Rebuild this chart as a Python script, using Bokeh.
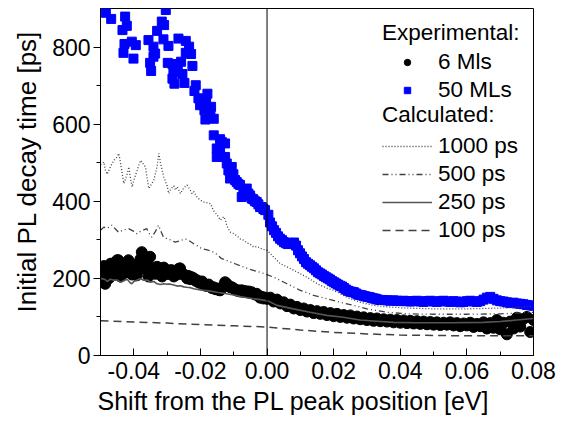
from bokeh.plotting import figure
from bokeh.models import (Range1d, FixedTicker, NumeralTickFormatter, Span, Legend, LegendItem, Title)
from bokeh.embed import file_html
from bokeh.resources import INLINE

# ---- data ----
ml50_x = [-0.0484, -0.0468, -0.0426, -0.0421, -0.0434, -0.0428, -0.0431, -0.0406, -0.0394, -0.0401,
          -0.0316, -0.0309, -0.0330, -0.0304, -0.0356, -0.0341, -0.0336, -0.0341, -0.0351, -0.0348,
          -0.0311, -0.0296, -0.0266, -0.0244, -0.0234, -0.0244, -0.0228, -0.0224, -0.0298, -0.0284,
          -0.0258, -0.0268, -0.0281, -0.0254, -0.0284, -0.0278, -0.0248, -0.0214, -0.0218, -0.0179,
          -0.0206, -0.0183, -0.0201, -0.0168, -0.0188, -0.0170, -0.0185, -0.0160, -0.0160, -0.0141,
          -0.0136, -0.0126, -0.0151, -0.0141, -0.0151, -0.0126, -0.0121, -0.0116, -0.0106, -0.0101,
          -0.0111, -0.0096, -0.0091, -0.0086, -0.0081, -0.0076, -0.0071, -0.0066, -0.0061, -0.0056,
          -0.0051, -0.0046, -0.0041, -0.0036, -0.0031, -0.0026, -0.0021, -0.0016, -0.0011, -0.0006,
          0.0004, 0.0009, 0.0015, 0.0021, 0.0027, 0.0033, 0.0039, 0.0045, 0.0051, 0.0057,
          0.0063, 0.0069, 0.0075, 0.0081, 0.0087, 0.0093, 0.0099, 0.0105, 0.0111, 0.0117,
          0.0123, 0.0129, 0.0135, 0.0141, 0.0147, 0.0153, 0.0159, 0.0165, 0.0171, 0.0177,
          0.0183, 0.0189, 0.0195, 0.0201, 0.0207, 0.0213, 0.0219, 0.0225, 0.0231, 0.0237,
          0.0243, 0.0249, 0.0255, 0.0261, 0.0267, 0.0273, 0.0279, 0.0285, 0.0291, 0.0297,
          0.0303, 0.0309, 0.0315, 0.0321, 0.0327, 0.0333, 0.034, 0.035, 0.036, 0.037,
          0.038, 0.039, 0.040, 0.041, 0.042, 0.043, 0.044, 0.045, 0.046, 0.047,
          0.048, 0.049, 0.050, 0.051, 0.052, 0.053, 0.054, 0.055, 0.056, 0.057,
          0.058, 0.059, 0.060, 0.061, 0.062, 0.063, 0.064, 0.065, 0.066, 0.067,
          0.068, 0.069, 0.070, 0.071, 0.072, 0.073, 0.074, 0.075, 0.076, 0.077,
          0.078, 0.079, 0.080]
ml50_y = [889, 873, 879, 855, 844, 808, 785, 814, 805, 770,
          866, 857, 842, 896, 818, 801, 783, 775, 759, 738,
          820, 803, 822, 816, 801, 785, 782, 751, 759, 756,
          762, 751, 736, 730, 718, 705, 707, 701, 686, 679,
          667, 660, 649, 645, 636, 634, 612, 614, 571, 561,
          554, 550, 537, 528, 515, 515, 498, 480, 489, 470,
          459, 455, 450, 445, 442, 411, 430, 425, 433, 420,
          415, 407, 405, 400, 398, 392, 385, 385, 380, 377,
          365, 345, 335, 325, 318, 309, 303, 299, 294, 291,
          289, 292, 290, 293, 285, 273, 265, 257, 250, 242,
          238, 234, 230, 226, 221, 216, 213, 210, 206, 203,
          200, 197, 193, 190, 187, 184, 181, 179, 175, 171,
          168, 166, 165, 164, 161, 158, 157, 156, 154, 153,
          152, 151, 149, 148, 147, 145, 144, 144, 143, 142,
          143, 142, 141, 142, 141, 140, 141, 142, 140, 139,
          141, 142, 140, 139, 141, 142, 140, 139, 141, 140,
          138, 139, 141, 142, 140, 139, 141, 145, 150, 152,
          147, 143, 141, 140, 138, 136, 137, 135, 134, 133,
          131, 130, 129]

ml6_x = [-0.0500, -0.0495, -0.0490, -0.0486, -0.0480, -0.0475, -0.0470, -0.0466, -0.0460, -0.0455,
         -0.0450, -0.0446, -0.0440, -0.0436, -0.0430, -0.0425, -0.0420, -0.0416, -0.0411, -0.0405,
         -0.0400, -0.0395, -0.0391, -0.0385, -0.0380, -0.0376, -0.0370, -0.0366, -0.0360, -0.0356,
         -0.0351, -0.0345, -0.0341, -0.0335, -0.0330, -0.0326, -0.0321, -0.0315, -0.0310, -0.0305,
         -0.0300, -0.0296, -0.0290, -0.0286, -0.0280, -0.0275, -0.0270, -0.0265, -0.0261, -0.0255,
         -0.0250, -0.0246, -0.0240, -0.0235, -0.0230, -0.0226, -0.0220, -0.0215, -0.0210, -0.0206,
         -0.0200, -0.0195, -0.0190, -0.0186, -0.0180, -0.0175, -0.0170, -0.0165, -0.0161, -0.0155,
         -0.0150, -0.0145, -0.0141, -0.0135, -0.0130, -0.0126, -0.0121, -0.0115, -0.0110, -0.0106,
         -0.0100, -0.0095, -0.0090, -0.0086, -0.0080, -0.0076, -0.0070, -0.0066, -0.0060, -0.0055,
         -0.0050, -0.0046, -0.0040, -0.0035, -0.0031, -0.0025, -0.0021, -0.0015, -0.0011, -0.0005,
         0.000, 0.001, 0.002, 0.003, 0.004, 0.005, 0.006, 0.007, 0.008, 0.009,
         0.010, 0.011, 0.012, 0.013, 0.014, 0.015, 0.016, 0.017, 0.018, 0.019,
         0.020, 0.021, 0.022, 0.023, 0.024, 0.025, 0.026, 0.027, 0.028, 0.029,
         0.030, 0.031, 0.032, 0.033, 0.034, 0.035, 0.036, 0.037, 0.038, 0.039,
         0.040, 0.041, 0.042, 0.043, 0.044, 0.045, 0.046, 0.047, 0.048, 0.049,
         0.050, 0.051, 0.052, 0.053, 0.054, 0.055, 0.056, 0.057, 0.058, 0.059,
         0.060, 0.061, 0.062, 0.063, 0.064, 0.065, 0.066, 0.067, 0.068, 0.069,
         0.070, 0.071, 0.072, 0.073, 0.074, 0.075, 0.076, 0.077, 0.078, 0.079,
         0.080]
ml6_y = [195, 215, 232, 186, 229, 200, 238, 238, 212, 230,
         247, 247, 205, 221, 232, 215, 240, 247, 221, 210,
         235, 215, 208, 225, 250, 268, 240, 225, 232, 205,
         256, 228, 221, 212, 230, 225, 216, 205, 228, 215,
         212, 212, 221, 221, 205, 218, 210, 225, 226, 212,
         210, 208, 200, 206, 198, 203, 200, 194, 195, 190,
         188, 192, 186, 182, 180, 184, 178, 175, 177, 172,
         174, 170, 169, 175, 180, 190, 186, 180, 177, 177,
         174, 170, 168, 169, 166, 169, 165, 167, 164, 166,
         162, 164, 160, 158, 160, 155, 150, 152, 148, 150,
         147, 150, 140, 145, 135, 138, 128, 132, 122, 126,
         118, 122, 114, 118, 110, 115, 108, 113, 105, 110,
         102, 108, 100, 105, 98, 104, 96, 101, 94, 99,
         92, 97, 90, 96, 89, 94, 88, 93, 86, 92,
         85, 91, 84, 90, 83, 89, 82, 88, 81, 87,
         80, 86, 79, 85, 80, 86, 78, 84, 76, 83,
         78, 85, 74, 82, 76, 86, 70, 84, 72, 92,
         68, 85, 55, 88, 70, 98, 75, 95, 100, 61,
         92]

c1000_x = [-0.0500, -0.0490, -0.0485, -0.0480, -0.0470, -0.0460, -0.0450, -0.0445, -0.0440, -0.0430,
           -0.0420, -0.0415, -0.0410, -0.0405, -0.0400, -0.0390, -0.0380, -0.0370, -0.0365, -0.0360,
           -0.0355, -0.0350, -0.0340, -0.0330, -0.0325, -0.0320, -0.0310, -0.0300, -0.0295, -0.0290,
           -0.0280, -0.0275, -0.0270, -0.0260, -0.0250, -0.0240, -0.0230, -0.0225, -0.0220, -0.0210,
           -0.0200, -0.0190, -0.0180, -0.0170, -0.0160, -0.0150, -0.0140, -0.0130, -0.0125, -0.0120,
           -0.0110, -0.0100, -0.0090, -0.0080, -0.0070, -0.0060, -0.0050, -0.0040, -0.0030, -0.0020,
           -0.0010, 0.000, 0.002, 0.004, 0.006, 0.008, 0.010, 0.012, 0.014, 0.016,
           0.018, 0.020, 0.022, 0.024, 0.026, 0.028, 0.030, 0.032, 0.035, 0.038,
           0.042, 0.046, 0.050, 0.055, 0.060, 0.065, 0.070, 0.075, 0.080]
c1000_y = [495, 502, 480, 470, 490, 506, 515, 524, 500, 446,
           470, 489, 460, 437, 455, 480, 506, 495, 489, 460,
           433, 440, 455, 490, 524, 500, 463, 440, 420, 430,
           440, 429, 438, 420, 435, 442, 428, 420, 425, 410,
           403, 398, 396, 394, 375, 365, 351, 360, 351, 335,
           320, 316, 310, 302, 299, 292, 288, 281, 283, 278,
           275, 273, 255, 238, 230, 221, 212, 203, 192, 182,
           175, 169, 160, 151, 144, 138, 134, 130, 127, 125,
           123, 122, 121, 121, 121, 122, 123, 125, 127]

c500_x = [-0.0500, -0.0490, -0.0480, -0.0466, -0.0455, -0.0446, -0.0430, -0.0416, -0.0400, -0.0391,
          -0.0380, -0.0361, -0.0355, -0.0346, -0.0335, -0.0326, -0.0320, -0.0311, -0.0300, -0.0290,
          -0.0276, -0.0260, -0.0245, -0.0236, -0.0220, -0.0210, -0.0196, -0.0180, -0.0160, -0.0150,
          -0.0136, -0.0120, -0.0096, -0.0075, -0.0056, -0.0030, -0.0006, 0.002, 0.006, 0.010,
          0.014, 0.018, 0.022, 0.026, 0.030, 0.036, 0.042, 0.050, 0.060, 0.070, 0.080]
c500_y = [325, 333, 330, 338, 328, 320, 326, 329, 322, 316,
          322, 329, 318, 307, 322, 338, 325, 307, 303, 300,
          294, 298, 302, 299, 290, 285, 277, 274, 268, 262,
          251, 246, 238, 231, 225, 218, 212, 203, 186, 169,
          156, 147, 138, 130, 121, 112, 108, 107, 107, 108, 112]

c250_x = [-0.0500, -0.0486, -0.0480, -0.0470, -0.0460, -0.0450, -0.0440, -0.0430, -0.0420, -0.0410,
          -0.0406, -0.0400, -0.0381, -0.0370, -0.0360, -0.0350, -0.0340, -0.0330, -0.0320, -0.0310,
          -0.0300, -0.0290, -0.0280, -0.0270, -0.0260, -0.0250, -0.0241, -0.0230, -0.0220, -0.0191,
          -0.0170, -0.0150, -0.0121, -0.0100, -0.0080, -0.0060, -0.0041, -0.0020, 0.0004, 0.003,
          0.0079, 0.0129, 0.0179, 0.0229, 0.0279, 0.033, 0.038, 0.045, 0.055, 0.065, 0.070, 0.075, 0.080]
c250_y = [200, 197, 192, 198, 195, 196, 190, 194, 198, 188,
          186, 192, 199, 195, 196, 190, 192, 186, 184, 186,
          185, 185, 183, 180, 181, 178, 177, 176, 173, 169,
          167, 164, 160, 157, 153, 150, 147, 145, 141, 130,
          121, 112, 104, 99, 92, 89, 86, 85, 85, 86, 88, 92, 96]

c100_x = [-0.050, -0.040, -0.030, -0.020, -0.010, 0.000, 0.010, 0.020, 0.030, 0.040, 0.050, 0.060, 0.070, 0.080]
c100_y = [90, 87, 84, 80, 77, 74, 66, 60, 56, 53, 52, 51, 51, 51]

x_ticks = [-0.04, -0.02, 0.00, 0.02, 0.04, 0.06, 0.08]
x_minor = [-0.05, -0.03, -0.01, 0.01, 0.03, 0.05, 0.07]
y_ticks = [0, 200, 400, 600, 800]
y_minor = [100, 300, 500, 700]

x_title = "Shift from the PL peak position [eV]"
y_title = "Initial PL decay time [ps]"

FONT = "Liberation Sans"

p = figure(width=561, height=424, output_backend="svg", toolbar_location=None,
           x_range=Range1d(-0.05, 0.08), y_range=Range1d(0, 900),
           min_border_left=100, min_border_right=28, min_border_top=8, min_border_bottom=69)
p.grid.visible = False
p.outline_line_color = "black"
p.outline_line_width = 1
p.background_fill_color = "white"
p.border_fill_color = "white"

xa = p.xaxis[0]
xa.ticker = FixedTicker(ticks=x_ticks, minor_ticks=x_minor)
xa.formatter = NumeralTickFormatter(format="0.00")
xa.major_tick_in = 7
xa.major_tick_out = 0
xa.minor_tick_in = 4
xa.minor_tick_out = 0

ya = p.yaxis[0]
ya.ticker = FixedTicker(ticks=y_ticks, minor_ticks=y_minor)
ya.major_tick_in = 0
ya.major_tick_out = 7
ya.minor_tick_in = 0
ya.minor_tick_out = 4

for ax in (xa, ya):
    ax.axis_line_color = "black"
    ax.major_tick_line_color = "black"
    ax.minor_tick_line_color = "black"
    ax.major_label_text_font = FONT
    ax.major_label_text_font_size = "23px"
    ax.major_label_text_color = "black"
xa.major_label_standoff = 6
ya.major_label_standoff = 3

# axis titles as side titles (the reference places them slightly off-centre)
p.add_layout(Title(text=x_title, align="left", offset=-3, standoff=7, text_font=FONT,
                   text_font_size="25px", text_font_style="normal", text_color="black"), "below")
p.add_layout(Title(text=y_title, align="left", offset=43, standoff=16, text_font=FONT,
                   text_font_size="26px", text_font_style="normal", text_color="black"), "left")

p.add_layout(Span(location=0, dimension="height", line_color="black", line_width=1))

r50 = p.scatter(ml50_x, ml50_y, marker="square", size=9, color="#0000ff")
r6 = p.scatter(ml6_x, ml6_y, marker="circle", size=11, color="black")
r1000 = p.line(c1000_x, c1000_y, line_color="#404040", line_width=1.3, line_dash="1 2")
r500 = p.line(c500_x, c500_y, line_color="#404040", line_width=1.3, line_dash="6 3 1 3 1 3")
r250 = p.line(c250_x, c250_y, line_color="#555555", line_width=1.6)
r100 = p.line(c100_x, c100_y, line_color="#404040", line_width=1.5, line_dash="8 5")


def style(leg, gh):
    leg.background_fill_alpha = 0
    leg.border_line_color = None
    leg.padding = 0
    leg.margin = 0
    leg.spacing = 2
    leg.label_height = 24
    leg.glyph_height = gh
    leg.glyph_width = 50
    leg.label_standoff = 6
    leg.label_text_font = FONT
    leg.label_text_font_size = "22.5px"
    leg.label_text_color = "black"
    leg.title_text_font = FONT
    leg.title_text_font_size = "22.5px"
    leg.title_text_font_style = "normal"
    leg.title_text_color = "black"


leg1 = Legend(items=[LegendItem(label="6 Mls", renderers=[r6]),
                     LegendItem(label="50 MLs", renderers=[r50])],
              title="Experimental:", location=(282, 252))
style(leg1, 16)
leg1.title_standoff = 3
leg2 = Legend(items=[LegendItem(label="1000 ps", renderers=[r1000]),
                     LegendItem(label="500 ps", renderers=[r500]),
                     LegendItem(label="250 ps", renderers=[r250]),
                     LegendItem(label="100 ps", renderers=[r100])],
              title="Calculated:", location=(282, 112))
style(leg2, 24)
leg2.title_standoff = 5
p.add_layout(leg1)
p.add_layout(leg2)

open("out.html", "w").write(file_html(p, INLINE))
